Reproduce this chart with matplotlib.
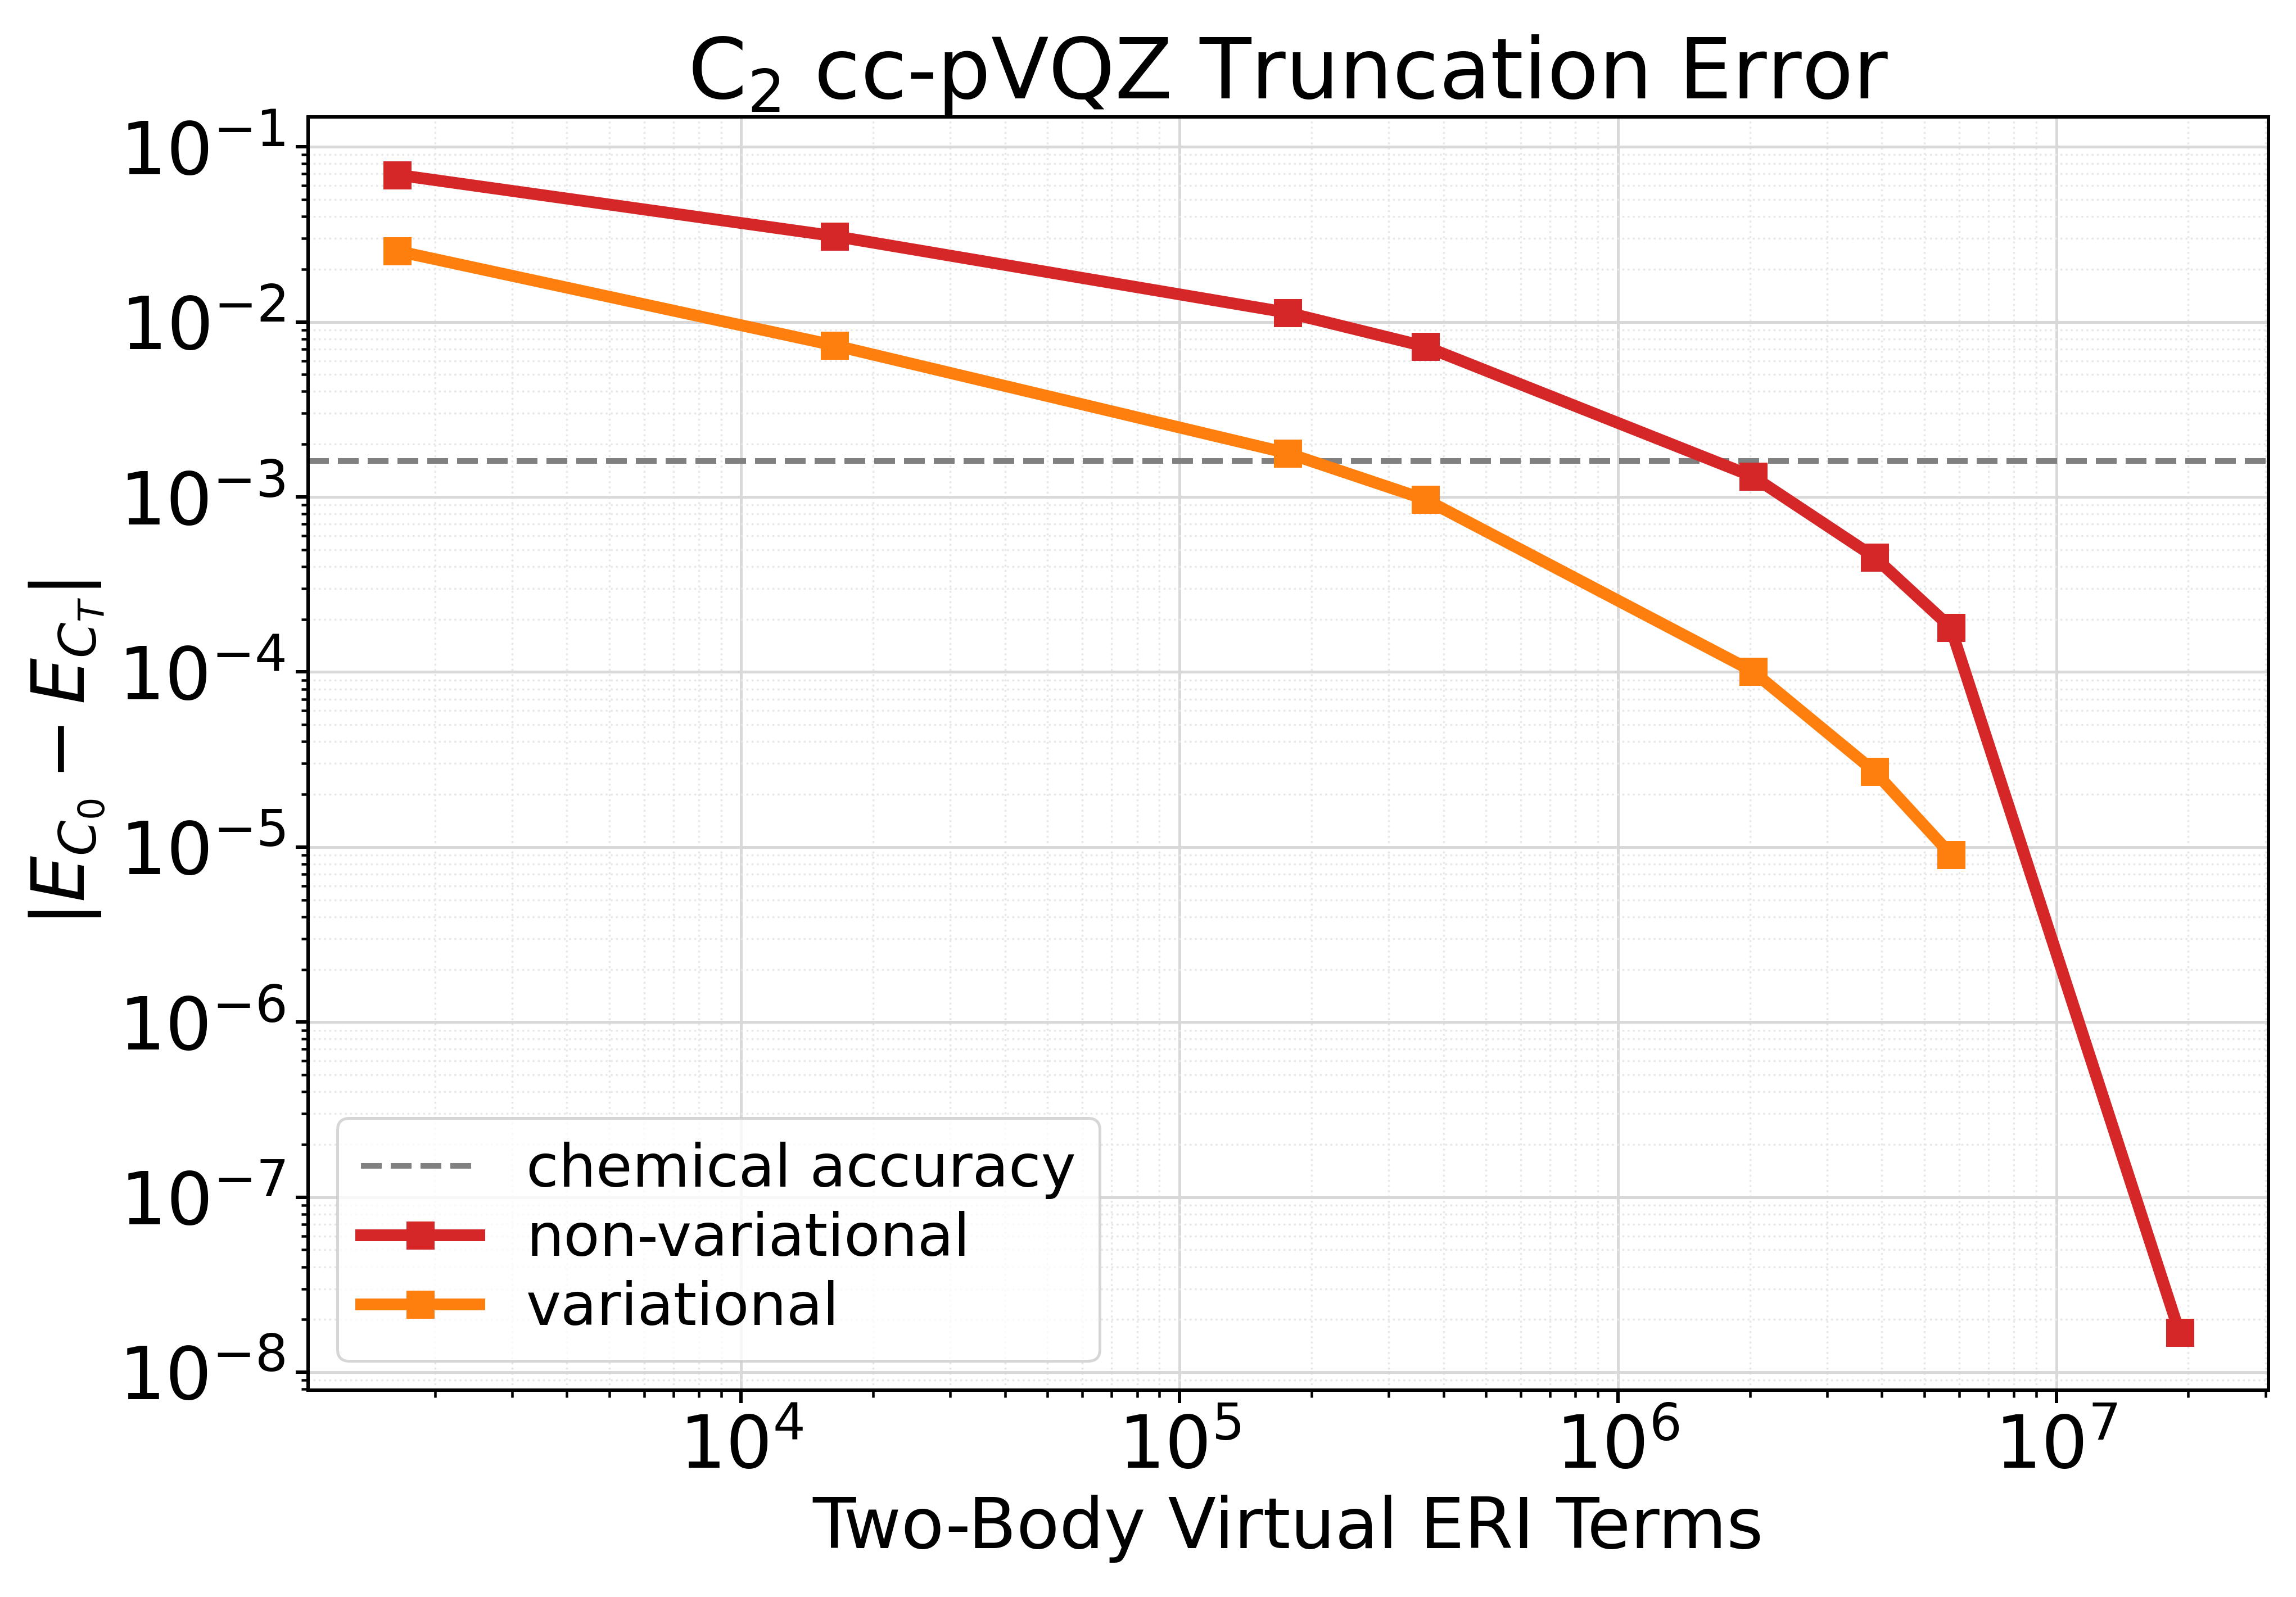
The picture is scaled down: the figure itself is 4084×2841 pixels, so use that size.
import matplotlib
matplotlib.use("Agg")
import matplotlib.pyplot as plt

# Number of two-body virtual ERI terms kept at each truncation level
eri_terms = [1640, 16300, 1.76e5, 3.63e5, 2.03e6, 3.85e6, 5.74e6, 1.91e7]

# |E_C0 - E_CT| errors (Hartree)
err_nonvar = [0.0692, 0.0309, 0.0113, 0.00724, 0.00131, 4.53e-4, 1.80e-4, 1.69e-8]
err_var = [0.0254, 0.00734, 0.00178, 9.69e-4, 1.01e-4, 2.7e-5, 9.1e-6]

chem_acc = 1.6e-3  # 1 kcal/mol in Hartree

dpi = 360
fig = plt.figure(figsize=(4085 / dpi, 2841 / dpi), dpi=dpi)
ax = fig.add_axes([0.1341, 0.1295, 0.9878 - 0.1341, 0.9268 - 0.1295])

ax.axhline(chem_acc, color='gray', ls='--', lw=2, label='chemical accuracy', zorder=2)
ax.plot(eri_terms, err_nonvar, '-s', color='tab:red', lw=4.2, ms=9, label='non-variational', zorder=3)
ax.plot(eri_terms[:len(err_var)], err_var, '-s', color='tab:orange', lw=4.2, ms=9, label='variational', zorder=3)

ax.set_xscale('log')
ax.set_yscale('log')

ax.grid(True, which='major', color='#d9d9d9', lw=1.0, ls='-')
ax.grid(True, which='minor', color='#e8e8e8', lw=0.7, ls=':')
ax.set_axisbelow(True)

for s in ax.spines.values():
    s.set_linewidth(1.2)

ax.tick_params(axis='both', which='major', labelsize=26, length=4.5, width=1.2)
ax.tick_params(axis='both', which='minor', length=2.5, width=0.9)

ax.set_title(r'C$_2$ cc-pVQZ Truncation Error', fontsize=30)
ax.set_xlabel('Two-Body Virtual ERI Terms', fontsize=25)
ax.set_ylabel(r'$|E_{C_0} - E_{C_T}|$', fontsize=26)
ax.legend(loc='lower left', fontsize=21, labelspacing=0.2)

fig.savefig('out.png', dpi=dpi)
